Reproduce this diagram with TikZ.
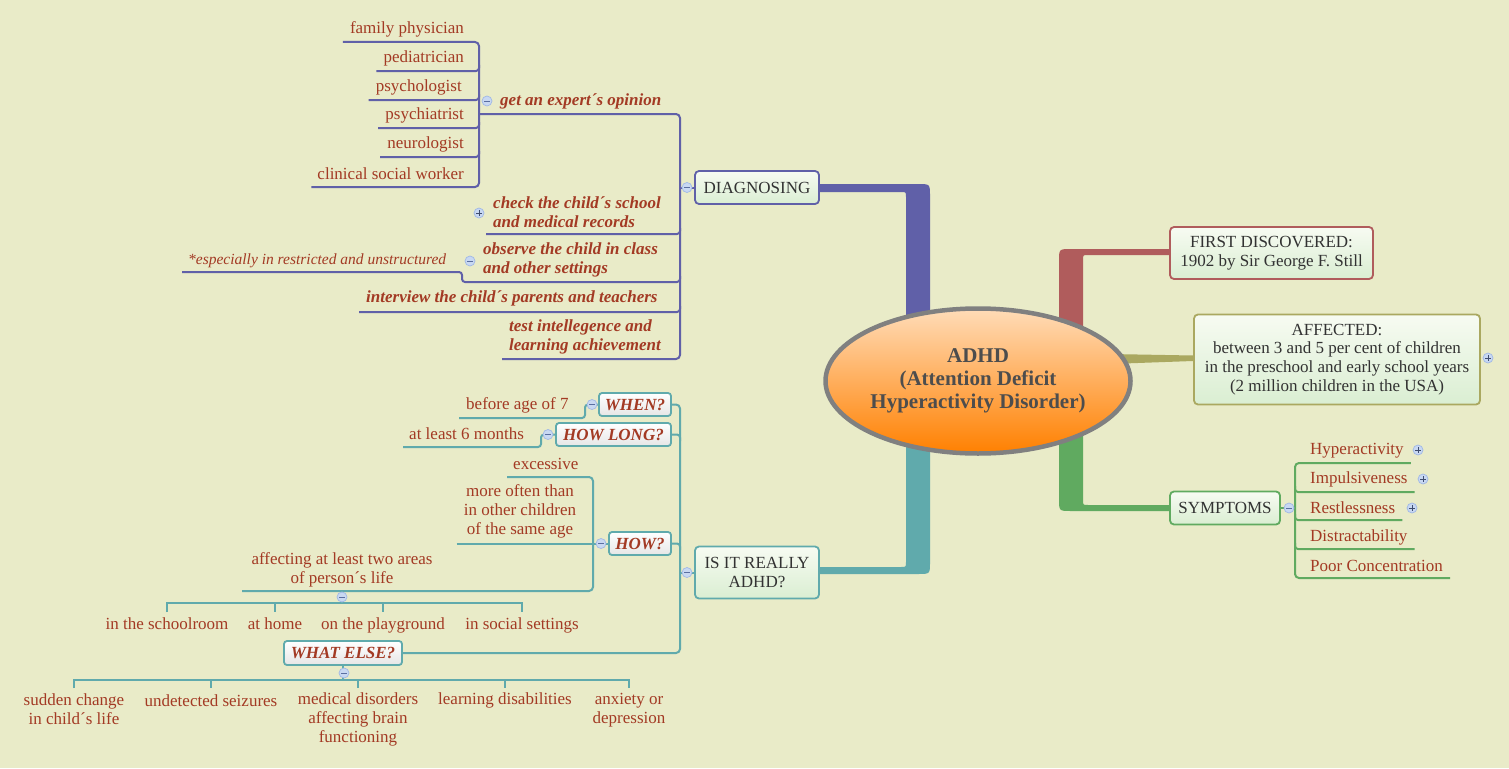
\documentclass[tikz,border=0pt]{standalone}
\usepackage{fontspec}
\setmainfont{Liberation Serif}
\usetikzlibrary{shapes.geometric}
\definecolor{bg}{RGB}{233,235,200}
\definecolor{purp}{RGB}{96,96,168}
\definecolor{teal}{RGB}{96,170,172}
\definecolor{redb}{RGB}{176,92,92}
\definecolor{oliv}{RGB}{170,168,96}
\definecolor{grn}{RGB}{96,170,96}
\definecolor{txtred}{RGB}{163,58,36}
\definecolor{boxtxt}{RGB}{50,50,50}
\definecolor{boxtop}{RGB}{247,251,242}
\definecolor{boxbot}{RGB}{218,238,210}
\definecolor{qbot}{RGB}{230,230,230}
\definecolor{tglf}{RGB}{200,216,242}
\definecolor{tglb}{RGB}{160,184,230}
\definecolor{tgls}{RGB}{90,110,160}
\definecolor{ellb}{RGB}{128,128,128}
\definecolor{ellt}{RGB}{77,77,77}
\definecolor{elltop}{RGB}{255,220,184}
\definecolor{ellbot}{RGB}{255,128,0}
\newcommand\mfs{\fontsize{17}{19}\selectfont}
\begin{document}
\begin{tikzpicture}[x=1pt,y=-1pt,
  lbl/.style={text=txtred, font=\mfs, inner sep=0pt, text depth=0pt, align=center},
  lblb/.style={lbl, font=\mfs\bfseries\itshape},
  box/.style={draw, line width=1.8pt, rounded corners=4pt, top color=boxtop, bottom color=boxbot, text=boxtxt, font=\mfs, align=center, inner sep=0pt},
  qbox/.style={draw=teal, line width=1.8pt, rounded corners=3pt, top color=white, bottom color=qbot, text=txtred, font=\mfs\bfseries\itshape, inner sep=0pt},
  tgl/.style={circle, draw=tglb, fill=tglf, line width=0.7pt, minimum size=10pt, inner sep=0pt},
  tglm/.style={tgl, path picture={\draw[tgls, line width=1pt] ([xshift=-2.8pt]path picture bounding box.center) -- ([xshift=2.8pt]path picture bounding box.center);}},
  tglp/.style={tgl, path picture={\draw[tgls!70!black, line width=1pt] ([xshift=-2.8pt]path picture bounding box.center) -- ([xshift=2.8pt]path picture bounding box.center) ([yshift=-2.8pt]path picture bounding box.center) -- ([yshift=2.8pt]path picture bounding box.center);}},
  pl/.style={draw=purp, line width=2pt},
  tl/.style={draw=teal, line width=2pt},
  gl/.style={draw=grn, line width=2pt}]
\useasboundingbox (0,0) rectangle (1509,768);
\fill[bg] (0,0) rectangle (1509,768);

% thick main branches
\fill[purp] (820,184) -- (918,184) .. controls (930,184) .. (930,196) -- (930,330) -- (906,330) -- (906,197) .. controls (906,192) .. (901,192) -- (820,192) -- cycle;
\fill[teal] (820,567) -- (901,567) .. controls (906,567) .. (906,562) -- (906,440) -- (930,440) -- (930,562) .. controls (930,574) .. (918,574) -- (820,574) -- cycle;
\fill[redb] (1169,249) -- (1071,249) .. controls (1059,249) .. (1059,261) -- (1059,330) -- (1083,330) -- (1083,260) .. controls (1083,255) .. (1088,255) -- (1169,255) -- cycle;
\fill[grn] (1169,511) -- (1071,511) .. controls (1059,511) .. (1059,499) -- (1059,430) -- (1083,430) -- (1083,500) .. controls (1083,505) .. (1088,505) -- (1169,505) -- cycle;
\fill[oliv] (1110,354) -- (1193,355.5) -- (1193,361) -- (1110,364) -- cycle;

% central node
\node[ellipse, draw=ellb, line width=4.5pt, minimum width=305pt, minimum height=145pt, top color=elltop, bottom color=ellbot, align=center, font=\fontsize{21}{23}\selectfont\bfseries, text=ellt, inner sep=0pt] (adhd) at (978,381) {ADHD\\(Attention Deficit\\Hyperactivity Disorder)};

% main topic boxes
\node[box, draw=purp, minimum width=124pt, minimum height=33pt] (diag) at (757,187.5) {DIAGNOSING};
\node[box, draw=redb, minimum width=203pt, minimum height=52pt] (first) at (1271.5,253) {FIRST DISCOVERED:\\1902 by Sir George F. Still};
\node[box, draw=oliv, minimum width=286pt, minimum height=90pt, font=\fontsize{17}{18.7}\selectfont] (aff) at (1337,359.5) {AFFECTED:\\between 3 and 5 per cent of children\\in the preschool and early school years\\(2 million children in the USA)};
\node[box, draw=grn, minimum width=110pt, minimum height=33pt] (symp) at (1225,508) {SYMPTOMS};
\node[box, draw=teal, minimum width=124pt, minimum height=52pt] (really) at (757,572.5) {IS IT REALLY\\ADHD?};

% ---- DIAGNOSING subtree
\node[lblb, anchor=south west] (expert) at (500,106) {get an expert´s opinion};
\node[lbl, anchor=south east] (fp) at (464,34) {family physician};
\node[lbl, anchor=south east] (ped) at (464,63) {pediatrician};
\node[lbl, anchor=south east] (psyo) at (462,92) {psychologist};
\node[lbl, anchor=south east] (psyi) at (464,120) {psychiatrist};
\node[lbl, anchor=south east] (neu) at (464,149) {neurologist};
\node[lbl, anchor=south east] (csw) at (464,180) {clinical social worker};
\node[lblb, anchor=south west, align=left] (check) at (493,228) {check the child´s school\\and medical records};
\node[lblb, anchor=south west, align=left] (observe) at (483,274) {observe the child in class\\and other settings};
\node[lbl, font=\fontsize{15.5}{17}\selectfont\itshape, anchor=south west] (espec) at (188,265) {*especially in restricted and unstructured};
\node[lblb, anchor=south west] (interview) at (366,303) {interview the child´s parents and teachers};
\node[lblb, anchor=south west, align=left] (test) at (509,351) {test intellegence and\\learning achievement};

\draw[pl, rounded corners=4pt] ([xshift=-7pt,yshift=-8pt]fp.south west) -- (479,42) -- (479,187) -- ([xshift=-6pt,yshift=-7pt]csw.south west);
\foreach \n/\y in {ped/71, psyo/100, psyi/128, neu/157}
  \draw[pl, rounded corners=3pt] ([xshift=-7pt,yshift=-8pt]\n.south west) -- (479,\y) -- (479,\y-6);
\draw[pl, rounded corners=4pt] (479,114) -- (680,114) -- (680,359) -- ([xshift=-7pt,yshift=-8pt]test.south west);
\draw[pl, rounded corners=3pt] ([xshift=-7pt,yshift=-6pt]check.south west) -- (680,234) -- (680,228);
\draw[pl, rounded corners=3pt] ([xshift=-6pt,yshift=-7pt]espec.south west) -- (462,272) -- (462,282) -- (680,282) -- (680,276);
\draw[pl, rounded corners=3pt] ([xshift=-7pt,yshift=-9pt]interview.south west) -- (680,312) -- (680,306);
\draw[pl] (680,187.5) -- (diag.west);

% ---- IS IT REALLY ADHD subtree
\node[qbox, minimum width=72pt, minimum height=23pt] (when) at (635,404.5) {WHEN?};
\node[qbox, minimum width=115pt, minimum height=23pt] (howlong) at (613.5,434.5) {HOW LONG?};
\node[qbox, minimum width=62pt, minimum height=23pt] (how) at (640,543.5) {HOW?};
\node[qbox, minimum width=118pt, minimum height=24pt] (whatelse) at (343,653) {WHAT ELSE?};

\node[lbl, anchor=south west] (before) at (466,410) {before age of 7};
\node[lbl, anchor=south west] (atleast) at (409,440) {at least 6 months};
\node[lbl, anchor=south west] (excessive) at (513,470) {excessive};
\node[lbl, anchor=south] (more) at (520,535) {more often than\\in other children\\of the same age};
\node[lbl, anchor=south] (affecting) at (342,584) {affecting at least two areas\\of person´s life};
\node[lbl, anchor=south] (school) at (167,630) {in the schoolroom};
\node[lbl, anchor=south] (home) at (275,630) {at home};
\node[lbl, anchor=south] (play) at (383,630) {on the playground};
\node[lbl, anchor=south] (social) at (522,630) {in social settings};
\node[lbl, anchor=south] (sudden) at (74,725) {sudden change\\in child´s life};
\node[lbl, anchor=south] (seiz) at (211,707) {undetected seizures};
\node[lbl, anchor=south] (medical) at (358,743) {medical disorders\\affecting brain\\functioning};
\node[lbl, anchor=south] (learn) at (505,705) {learning disabilities};
\node[lbl, anchor=south] (anx) at (629,724) {anxiety or\\depression};

\draw[tl, rounded corners=4pt] (when.east) -- (680,404.5) -- (680,653) -- (whatelse.east);
\draw[tl, rounded corners=3pt] (howlong.east) -- (680,434.5) -- (680,441);
\draw[tl, rounded corners=3pt] (how.east) -- (680,543.5) -- (680,550);
\draw[tl] (680,572.5) -- (really.west);
\draw[tl, rounded corners=3pt] ([xshift=-7pt,yshift=-8pt]before.south west) -- (585,418) -- (585,404.5) -- (when.west);
\draw[tl, rounded corners=3pt] ([xshift=-6pt,yshift=-7pt]atleast.south west) -- (541,447) -- (541,434.5) -- (howlong.west);
\draw[tl, rounded corners=4pt] ([xshift=-6pt,yshift=-7pt]excessive.south west) -- (593,477) -- (593,591) -- (242,591);
\coordinate (moreL) at ([xshift=-7pt]more.south west);
\draw[tl] (how.west -| moreL) -- (how.west);
\draw[tl] (affecting.south |- 0,591) -- (affecting.south |- 0,603);
\draw[tl] (school |- 0,612) -- (school |- 0,603) -- (social |- 0,603) -- (social |- 0,612);
\draw[tl] (home |- 0,603) -- (home |- 0,612);
\draw[tl] (play |- 0,603) -- (play |- 0,612);
\draw[tl] (whatelse.south) -- (whatelse.south |- 0,680);
\draw[tl] (sudden |- 0,688) -- (sudden |- 0,680) -- (anx |- 0,680) -- (anx |- 0,688);
\draw[tl] (seiz |- 0,680) -- (seiz |- 0,688);
\draw[tl] (medical |- 0,680) -- (medical |- 0,688);
\draw[tl] (learn |- 0,680) -- (learn |- 0,688);

% ---- SYMPTOMS subtree
\node[lbl, anchor=south west] (hyp) at (1310,455) {Hyperactivity};
\node[lbl, anchor=south west] (imp) at (1310,484) {Impulsiveness};
\node[lbl, anchor=south west] (rest) at (1310,514) {Restlessness};
\node[lbl, anchor=south west] (dist) at (1310,542) {Distractability};
\node[lbl, anchor=south west] (poor) at (1310,572) {Poor Concentration};
\coordinate (hypR) at ([xshift=7pt]hyp.south east);
\coordinate (impR) at ([xshift=7pt]imp.south east);
\coordinate (restR) at ([xshift=7pt]rest.south east);
\coordinate (distR) at ([xshift=7pt]dist.south east);
\coordinate (poorR) at ([xshift=7pt]poor.south east);
\draw[gl, rounded corners=4pt] (hypR |- 0,463) -- (1295,463) -- (1295,578) -- (poorR |- 0,578);
\draw[gl, rounded corners=3pt] (1295,486) -- (1295,492) -- (impR |- 0,492);
\draw[gl, rounded corners=3pt] (1295,514) -- (1295,520) -- (restR |- 0,520);
\draw[gl, rounded corners=3pt] (1295,543) -- (1295,549) -- (distR |- 0,549);
\draw[gl] (symp.east) -- (1295,508);

% ---- toggles
\node[tglm] (t1) at (687,187.5) {};
\node[tglm] (t2) at (487,101) {};
\node[tglp] (t3) at (479,213) {};
\node[tglm] (t4) at (470,261) {};
\node[tglp] (t5) at (1488,358) {};
\node[tglm] (t6) at (1289,508) {};
\node[tglp] (t7) at (1418,450) {};
\node[tglp] (t8) at (1423,479) {};
\node[tglp] (t9) at (1412,508) {};
\node[tglm] (t10) at (687,572.5) {};
\node[tglm] (t11) at (592,404.5) {};
\node[tglm] (t12) at (548,434.5) {};
\node[tglm] (t13) at (601,543.5) {};
\node[tglm] (t14) at (342,597) {};
\node[tglm] (t15) at (344,673) {};
\end{tikzpicture}
\end{document}
